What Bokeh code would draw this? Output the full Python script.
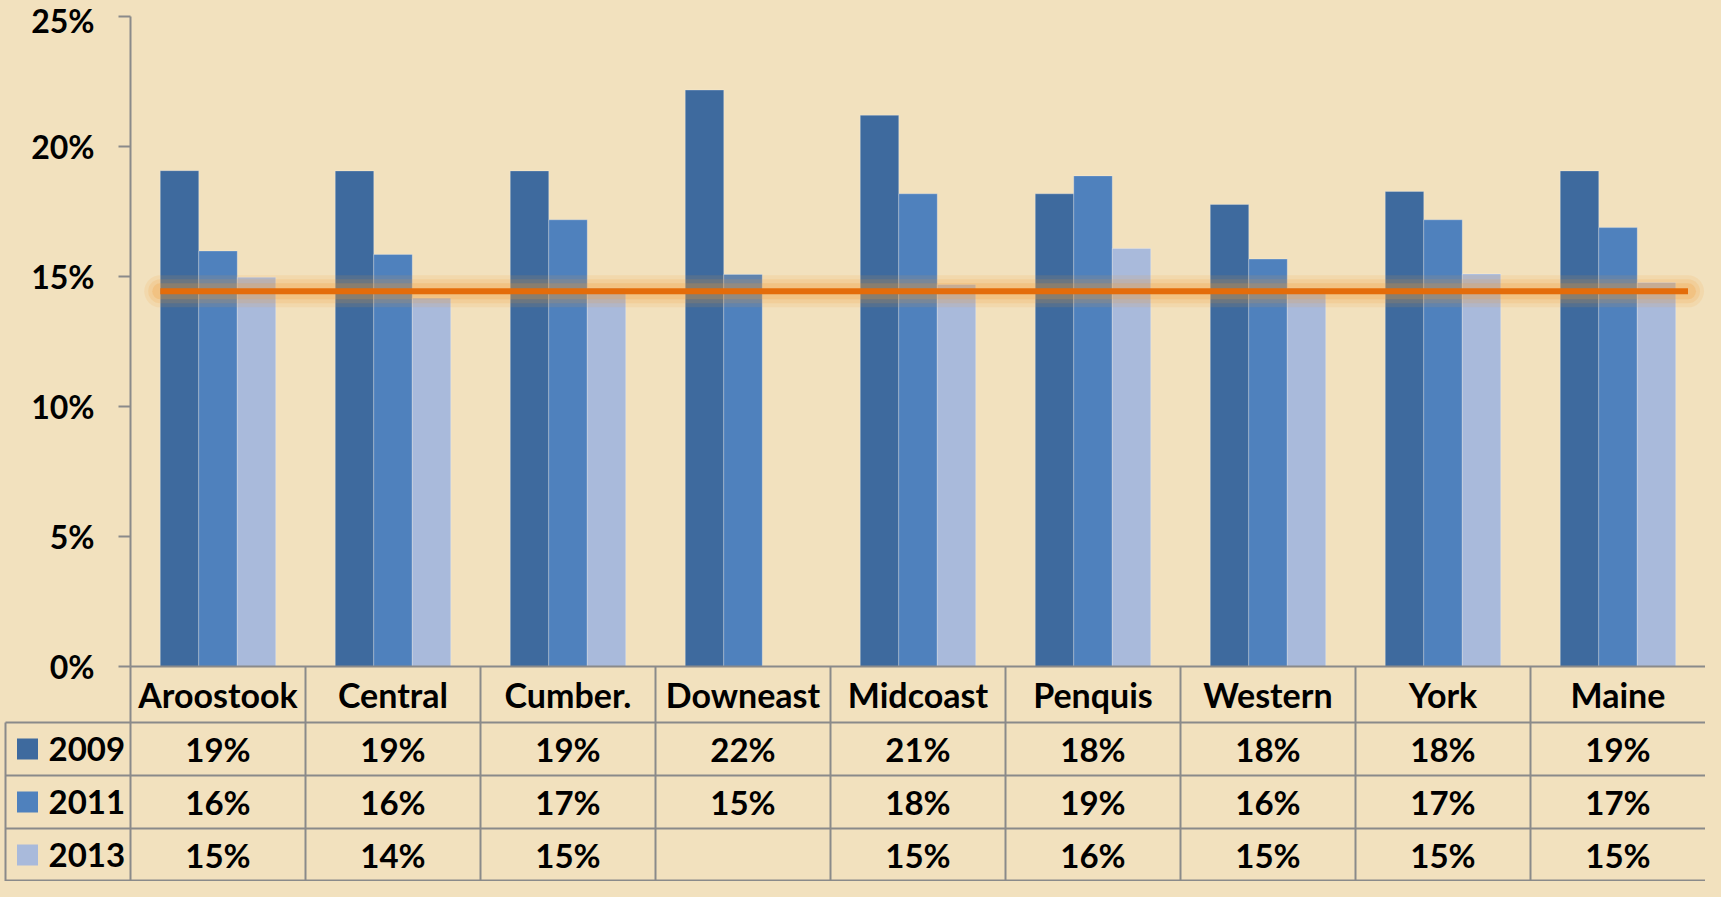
import numpy as np
from bokeh.plotting import figure
from bokeh.models import Range1d, LinearAxis, FixedTicker, NumeralTickFormatter
from bokeh.core.properties import value
from bokeh.embed import file_html
from bokeh.resources import INLINE

# ---------------- data ----------------
categories = ["Aroostook", "Central", "Cumber.", "Downeast", "Midcoast",
              "Penquis", "Western", "York", "Maine"]
years = ["2009", "2011", "2013"]
v2009 = [0.1907, 0.1906, 0.1906, 0.2217, 0.2120, 0.1818, 0.1777, 0.1827, 0.1906]
v2011 = [0.1598, 0.1585, 0.1718, 0.1508, 0.1818, 0.1887, 0.1567, 0.1718, 0.1688]
v2013 = [0.1497, 0.1417, 0.1455, None, 0.1469, 0.1608, 0.1455, 0.1510, 0.1477]
target = 0.1443
y_ticks = [0, 0.05, 0.10, 0.15, 0.20, 0.25]

# ---------------- style / layout ----------------
colors = ["#3E6A9E", "#4F81BD", "#A9BADB"]
BG = "#F2E1BE"
GRIDC = "#8A8A8A"
FONT = "Lato"
FS_TICK = "32px"
FS_CAT = "34px"
FS_CELL = "33px"

W, H = 1705, 881
TOP = 16
PLOT_PX = 650
HEAD_PX = 56
ROW_PX = (H - TOP - PLOT_PX - HEAD_PX) / 3
AXIS_X_PX = 130
NCAT = len(categories)
CAT_PX = (W - AXIS_X_PX) / NCAT
x_start = -AXIS_X_PX / CAT_PX
ypp = 0.25 / PLOT_PX
y_start = -(HEAD_PX + 3 * ROW_PX) * ypp
y_end = 0.25 + TOP * ypp
BAR_W = 0.22
TABLE_LEFT = x_start + 5 / CAT_PX

p = figure(width=W, height=H,
           x_range=Range1d(x_start, NCAT), y_range=Range1d(y_start, y_end),
           output_backend="svg", toolbar_location=None,
           x_axis_location=None, y_axis_location=None,
           min_border_left=0, min_border_right=0, min_border_top=0,
           min_border_bottom=0,
           background_fill_color=BG, border_fill_color=BG,
           outline_line_color=None)
for g in p.grid:
    g.visible = False

# ---------------- bars ----------------
series = [v2009, v2011, v2013]
idx = np.arange(NCAT) + 0.5
for k, (vals, col) in enumerate(zip(series, colors)):
    top = np.array([np.nan if v is None else v for v in vals], dtype=float)
    p.vbar(x=idx + (k - 1) * BAR_W, top=top, bottom=0, width=BAR_W,
           fill_color=col, line_color="#FFFFFF", line_alpha=0.25, line_width=1)

# ---------------- target line with glow ----------------
lx = [0.5 - 1.5 * BAR_W, (NCAT - 0.5) + 1.5 * BAR_W + 0.07]
ly = [target, target]
for w, a in [(32, 0.12), (24, 0.15), (16, 0.22)]:
    p.line(lx, ly, line_width=w, line_alpha=a, line_color="#F39A30",
           line_cap="round")
p.line(lx, ly, line_width=6, line_color="#E46C0A")

# ---------------- axes ----------------
yax = LinearAxis(fixed_location=0, bounds=(0, 0.25),
                 ticker=FixedTicker(ticks=y_ticks),
                 formatter=NumeralTickFormatter(format="0%"),
                 major_tick_out=12, major_tick_in=0,
                 minor_tick_out=0, minor_tick_in=0,
                 axis_line_color=GRIDC, axis_line_width=2,
                 major_tick_line_color=GRIDC, major_tick_line_width=2,
                 major_label_standoff=24,
                 major_label_text_font=FONT, major_label_text_font_style="bold",
                 major_label_text_font_size=FS_TICK, major_label_text_color="black")
p.add_layout(yax, "left")

xticks = [i + 0.5 for i in range(NCAT)]
xax = LinearAxis(fixed_location=0, bounds=(0, NCAT),
                 ticker=FixedTicker(ticks=xticks),
                 major_label_overrides={t: c for t, c in zip(xticks, categories)},
                 major_tick_out=0, major_tick_in=0,
                 minor_tick_out=0, minor_tick_in=0,
                 major_tick_line_color=None,
                 axis_line_color=GRIDC, axis_line_width=2,
                 major_label_standoff=7,
                 major_label_text_font=FONT, major_label_text_font_style="bold",
                 major_label_text_font_size=FS_CAT, major_label_text_color="black")
p.add_layout(xax, "below")

# ---------------- data table ----------------
yb = [-(HEAD_PX + ROW_PX * r) * ypp for r in range(3)] + [y_start + 1 * ypp]
p.segment(x0=[TABLE_LEFT] * 4, y0=yb, x1=[NCAT] * 4, y1=yb,
          line_color=GRIDC, line_width=2)
vx = list(range(NCAT))
p.segment(x0=vx, y0=[0] * NCAT, x1=vx, y1=[y_start] * NCAT,
          line_color=GRIDC, line_width=2)
p.segment(x0=[TABLE_LEFT], y0=[yb[0]], x1=[TABLE_LEFT], y1=[y_start],
          line_color=GRIDC, line_width=2)

yc = [-(HEAD_PX + ROW_PX * (r + 0.5)) * ypp for r in range(3)]
for r, vals in enumerate(series):
    txt = ["" if v is None else "{:.0%}".format(v) for v in vals]
    p.text(x=idx, y=[yc[r]] * NCAT, text=txt, text_align="center",
           text_baseline="middle", text_font=value(FONT),
           text_font_style="bold", text_font_size=FS_CELL, text_color="black")

p.scatter(x=[TABLE_LEFT + 22 / CAT_PX] * 3, y=yc, marker="square", size=21,
          fill_color=colors, line_color=None)
p.text(x=[TABLE_LEFT + 43 / CAT_PX] * 3, y=yc, text=years, text_align="left",
       text_baseline="middle", text_font=value(FONT), text_font_style="bold",
       text_font_size=FS_CELL, text_color="black")

html = file_html(p, INLINE)
html = html.replace("<head>", "<head><style>body{background:%s}</style>" % BG, 1)
open("out.html", "w").write(html)
